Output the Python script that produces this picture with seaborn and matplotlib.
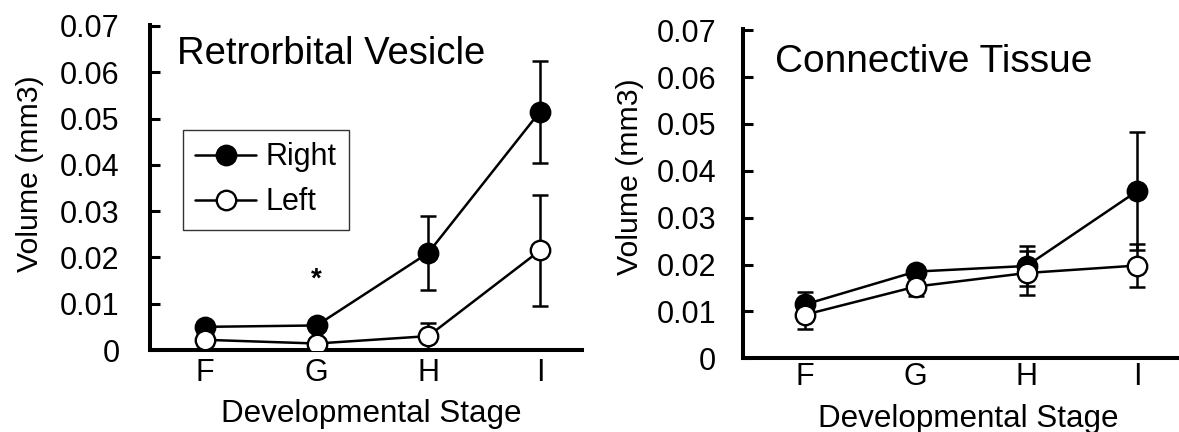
import matplotlib
matplotlib.use("Agg")
import matplotlib.pyplot as plt
import seaborn as sns
import pandas as pd

# ---- data -------------------------------------------------------------
stages = ["F", "G", "H", "I"]

rv_right = [0.0050, 0.0053, 0.0210, 0.0515]
rv_right_err = [0.0008, 0.0006, 0.0080, 0.0110]
rv_left = [0.0022, 0.0014, 0.0030, 0.0215]
rv_left_err = [0.0005, 0.0004, 0.0029, 0.0120]

ct_right = [0.0115, 0.0185, 0.0197, 0.0357]
ct_right_err = [0.0027, 0.0010, 0.0043, 0.0126]
ct_left = [0.0093, 0.0153, 0.0182, 0.0198]
ct_left_err = [0.0030, 0.0020, 0.0047, 0.0046]

y_ticks = [0, 0.01, 0.02, 0.03, 0.04, 0.05, 0.06, 0.07]
y_tick_labels = ["0", "0.01", "0.02", "0.03", "0.04", "0.05", "0.06", "0.07"]

panel_titles = ["Retrorbital Vesicle", "Connective Tissue"]
series_names = ["Right", "Left"]
y_label = "Volume (mm3)"
x_label = "Developmental Stage"
sig_stage = "G"
sig_value = 0.0151

# ---- style ------------------------------------------------------------
sns.set_theme(style="white")
plt.rcParams["font.family"] = ["Liberation Sans", "DejaVu Sans"]
plt.rcParams["text.color"] = "black"
plt.rcParams["axes.labelcolor"] = "black"

fig = plt.figure(figsize=(11.79, 4.32), dpi=100)
W, H = 1179, 432


def px_axes(x0, x1, y_top, y_bottom):
    return fig.add_axes([x0 / W, 1 - y_bottom / H, (x1 - x0) / W, (y_bottom - y_top) / H])


ax1 = px_axes(150, 582, 25, 350)
ax2 = px_axes(742.7, 1179, 29.3, 358.3)

LW = 1.8


def draw_panel(ax, right, right_err, left, left_err, xlim):
    df_r = pd.DataFrame({"stage": stages, "vol": right})
    df_l = pd.DataFrame({"stage": stages, "vol": left})
    xs = list(range(len(stages)))
    # error bars sit beneath the markers
    ax.errorbar(xs, right, yerr=right_err, fmt="none", ecolor="black",
                elinewidth=LW, capsize=6, capthick=LW, zorder=1)
    ax.errorbar(xs, left, yerr=left_err, fmt="none", ecolor="black",
                elinewidth=LW, capsize=6, capthick=LW, zorder=1)
    sns.lineplot(data=df_r, x="stage", y="vol", sort=False, ax=ax, color="black",
                 linewidth=LW, marker="o", markersize=14, markerfacecolor="black",
                 markeredgecolor="black", markeredgewidth=1.7, label=series_names[0],
                 zorder=3)
    sns.lineplot(data=df_l, x="stage", y="vol", sort=False, ax=ax, color="black",
                 linewidth=LW, marker="o", markersize=14, markerfacecolor="white",
                 markeredgecolor="black", markeredgewidth=1.7, label=series_names[1],
                 zorder=4)
    ax.set_xlim(*xlim)
    ax.set_ylim(0, 0.0702)
    ax.set_yticks(y_ticks)
    ax.set_yticklabels(y_tick_labels)
    for side in ("top", "right"):
        ax.spines[side].set_visible(False)
    for side in ("left", "bottom"):
        ax.spines[side].set_linewidth(2.9)
        ax.spines[side].set_color("black")
    ax.tick_params(axis="y", direction="in", length=7, width=2.2, colors="black",
                   labelsize=22, left=True)
    ax.tick_params(axis="x", length=0, labelsize=22, colors="black")
    ax.set_xlabel(x_label, fontsize=22.6)
    ax.set_ylabel(y_label, fontsize=21.8)


draw_panel(ax1, rv_right, rv_right_err, rv_left, rv_left_err, (-0.4925, 3.376))
draw_panel(ax2, ct_right, ct_right_err, ct_left, ct_left_err, (-0.5624, 3.376))

# tick label spacing differs slightly between the two panels
ax1.tick_params(axis="y", pad=22)
ax1.tick_params(axis="x", pad=5.5)
ax2.tick_params(axis="y", pad=19)
ax2.tick_params(axis="x", pad=2.5)

ax1.yaxis.set_label_coords(-0.2465, 0.543)
ax2.yaxis.set_label_coords(-0.2262, 0.552)
ax1.xaxis.set_label_coords(0.511, -0.150)
ax2.xaxis.set_label_coords(0.5164, -0.138)

ax1.text(0.062, 0.911, panel_titles[0], transform=ax1.transAxes, fontsize=27.5,
         ha="left", va="center")
ax2.text(0.0733, 0.9015, panel_titles[1], transform=ax2.transAxes, fontsize=28,
         ha="left", va="center")

# significance marker
ax1.text(stages.index(sig_stage), sig_value, "*", fontsize=20, ha="center",
         va="center", fontweight="bold")

# legend only on the first panel
ax1.legend(loc="upper left", bbox_to_anchor=(0.0764, 0.677), fontsize=22,
           frameon=True, fancybox=False, edgecolor="#333333", framealpha=1,
           handlelength=2.0, handletextpad=0.3, borderpad=0.4, labelspacing=0.5,
           borderaxespad=0)
ax1.get_legend().get_frame().set_linewidth(1.0)
ax2.get_legend().remove()

fig.savefig("out.png", dpi=100)
